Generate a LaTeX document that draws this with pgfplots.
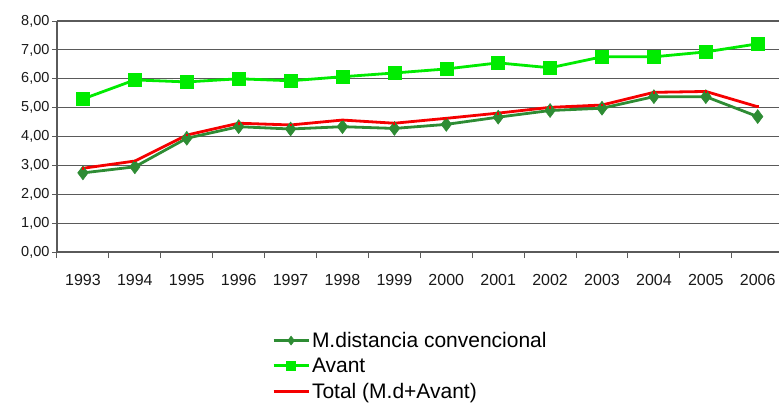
\documentclass[border=0pt]{standalone}
\usepackage{pgfplots}
\pgfplotsset{compat=1.18}
\usepackage{fontspec}
\setmainfont{Liberation Sans}
\definecolor{mdgreen}{RGB}{46,140,52}
\definecolor{avgreen}{RGB}{0,235,0}
\definecolor{totred}{RGB}{245,0,0}
\definecolor{gridgray}{RGB}{90,90,90}

\pgfplotstableread{
x  md    avant total
0  2.74  5.30  2.90
1  2.95  5.96  3.15
2  3.94  5.89  4.05
3  4.34  6.00  4.46
4  4.26  5.93  4.40
5  4.34  6.07  4.57
6  4.28  6.20  4.46
7  4.42  6.34  4.63
8  4.67  6.55  4.81
9  4.90  6.38  5.01
10 4.98  6.76  5.09
11 5.38  6.76  5.53
12 5.38  6.93  5.56
13 4.69  7.21  5.03
}\datatable

\begin{document}
\begin{tikzpicture}
\useasboundingbox (-57pt,-161pt) rectangle (722pt,252pt);
\begin{axis}[
  at={(0pt,0pt)}, anchor=south west,
  scale only axis,
  width=722pt, height=231pt,
  xmin=-0.5, xmax=13.41,
  ymin=0, ymax=8,
  ytick={0,1,...,8},
  xtick={0,...,13},
  xticklabels={1993,1994,1995,1996,1997,1998,1999,2000,2001,2002,2003,2004,2005,2006},
  minor xtick={-0.5,0.5,...,13.5},
  major x tick style={draw=none},
  minor x tick style={draw=gridgray, line width=1pt},
  minor tick length=6pt,
  ytick style={draw=gridgray, line width=1pt},
  major tick length=5pt,
  tick align=outside,
  xtick pos=bottom, ytick pos=left,
  ymajorgrids,
  grid style={gridgray, line width=1.2pt},
  axis x line*=bottom,
  axis y line*=left,
  axis line style={gridgray, line width=1.2pt, -},
  clip=false,
  /pgf/number format/assume math mode=true,
  yticklabel style={font=\fontsize{14.5}{16}\selectfont, text=black!90, xshift=1pt,
    /pgf/number format/.cd, fixed, fixed zerofill, precision=2, use comma},
  xticklabel style={font=\fontsize{16}{18}\selectfont, text=black!90, yshift=-14pt},
  legend style={
    at={(212pt,-76pt)}, anchor=north west,
    draw=none, fill=none,
    font=\fontsize{21}{24}\selectfont,
    row sep=5pt,
    legend cell align=left,
    /tikz/every even column/.append style={column sep=2pt},
  },
  legend image code/.code={
    \draw[#1, mark=none] (0pt,0pt) -- (35pt,0pt);
    \draw[#1, mark repeat=1, mark size=4.5pt] plot coordinates {(17.5pt,0pt)};
  },
]
\addplot[mdgreen, line width=2.8pt, mark=diamond*, mark size=7pt,
  mark options={line width=0.5pt, fill=mdgreen}] table[x=x, y=md] {\datatable};
\addlegendentry{M.distancia convencional}
\addplot[avgreen, line width=2.8pt, mark=square*, mark size=6.5pt,
  mark options={line width=0.5pt, fill=avgreen}] table[x=x, y=avant] {\datatable};
\addlegendentry{Avant}
\addplot[totred, line width=2.8pt, mark=-, mark size=1pt] table[x=x, y=total] {\datatable};
\addlegendentry{Total (M.d+Avant)}
\end{axis}
\end{tikzpicture}
\end{document}
